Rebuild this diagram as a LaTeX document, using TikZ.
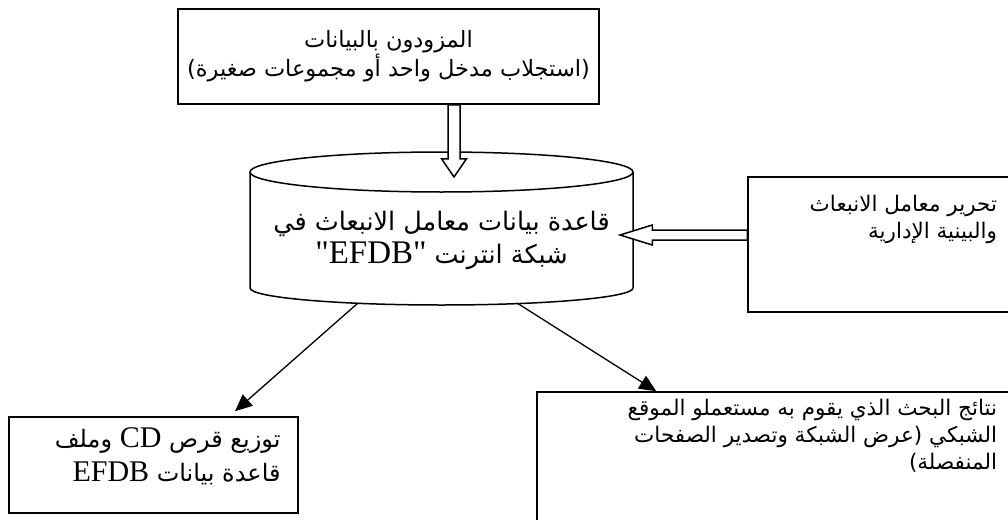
\documentclass[tikz,border=0pt]{standalone}
\usepackage{fontspec}
\usetikzlibrary{arrows.meta,calc}
\TeXXeTstate=1
\newfontfamily\arabicfont[Script=Arabic]{DejaVu Sans}
\newfontfamily\latfont{Liberation Serif}
\newcommand{\RLline}[1]{\beginR #1\endR}
\newcommand{\LTword}[2]{\beginL{\latfont\fontsize{#1}{#1}\selectfont #2}\endL{}}
\tikzset{
  boxnode/.style={draw, line width=1.5pt, inner sep=0pt},
  artext/.style={font=\arabicfont\fontsize{21.5}{27}\selectfont, inner sep=0pt},
  thinarrow/.style={line width=1.3pt, -{Triangle[length=17pt,width=15pt]}},
  blockarrow/.style={draw, line width=1.5pt, fill=white, line join=miter}
}
\begin{document}
\begin{tikzpicture}[x=1pt,y=-1pt]
\clip (0,0) rectangle (1008,519);
\fill[white] (0,0) rectangle (1008,519);

% top box
\node[boxnode, minimum width=421pt, minimum height=95pt, font=\arabicfont\fontsize{22.5}{27}\selectfont, align=center] (top) at (388.5,56.5)
  {\RLline{المزودون بالبيانات}\\ \RLline{(استجلاب مدخل واحد أو مجموعات صغيرة)}};

% cylinder
\draw[line width=1.5pt, fill=white] (250,172) -- (250,288) arc[start angle=180, end angle=360, x radius=191.5, y radius=-17] -- (633,172);
\draw[line width=1.5pt, fill=white] (441.5,172) ellipse[x radius=191.5, y radius=20];
\node[font=\arabicfont\fontsize{25.5}{33}\selectfont, align=center, inner sep=0pt] (db) at (441.5,240)
  {\RLline{قاعدة بيانات معامل الانبعاث في}\\ \RLline{شبكة انترنت \LTword{33}{"EFDB"}}};
\coordinate (dbL) at (358,303);
\coordinate (dbR) at (517,303);
\coordinate (dbTop) at (454,177);
\coordinate (dbSide) at (620,235);

% right box
\node[boxnode, minimum width=282pt, minimum height=135pt] (edit) at (889,244.5) {};
\node[artext, anchor=north east, align=right] (edittext) at ($(edit.north west)+(250,19)$)
  {\RLline{تحرير معامل الانبعاث}\\ \RLline{والبينية الإدارية}};

% bottom left box
\node[boxnode, minimum width=289pt, minimum height=96pt] (cd) at (153.5,465) {};
\node[font=\arabicfont\fontsize{24}{34}\selectfont, inner sep=0pt, anchor=north east, align=right] (cdtext) at ($(cd.north east)+(-18,11)$)
  {\RLline{توزيع قرص \LTword{30}{CD} وملف}\\ \RLline{قاعدة بيانات \LTword{30}{EFDB}}};

% bottom right box
\node[boxnode, minimum width=493pt, minimum height=148pt] (web) at (783.5,466) {};
\coordinate (webIn) at ($(web.north west)+(120,0)$);
\node[artext, anchor=north east, align=right] (webtext) at ($(web.north west)+(461,8)$)
  {\RLline{نتائج البحث الذي يقوم به مستعملو الموقع}\\ \RLline{الشبكي (عرض الشبكة وتصدير الصفحات}\\ \RLline{المنفصلة)}};

% block arrow down
\draw[blockarrow] ($(top.south)+(59.5,0)$) -- ($(top.south)+(59.5,54)$) -- ($(top.south)+(53,54)$) -- (dbTop)
  -- ($(top.south)+(78,54)$) -- ($(top.south)+(71.5,54)$) -- ($(top.south)+(71.5,0)$) -- cycle;
% block arrow left
\draw[blockarrow] ($(edit.west)+(0,-14.5)$) -- ($(edit.west)+(-95,-14.5)$) -- ($(edit.west)+(-95,-19.5)$) -- (dbSide)
  -- ($(edit.west)+(-95,0.5)$) -- ($(edit.west)+(-95,-4.5)$) -- ($(edit.west)+(0,-4.5)$) -- cycle;

% thin arrows
\draw[thinarrow] (dbL) -- ($(cd.north)+(81.5,-5)$);
\draw[thinarrow] (dbR) -- (webIn);
\end{tikzpicture}
\end{document}
